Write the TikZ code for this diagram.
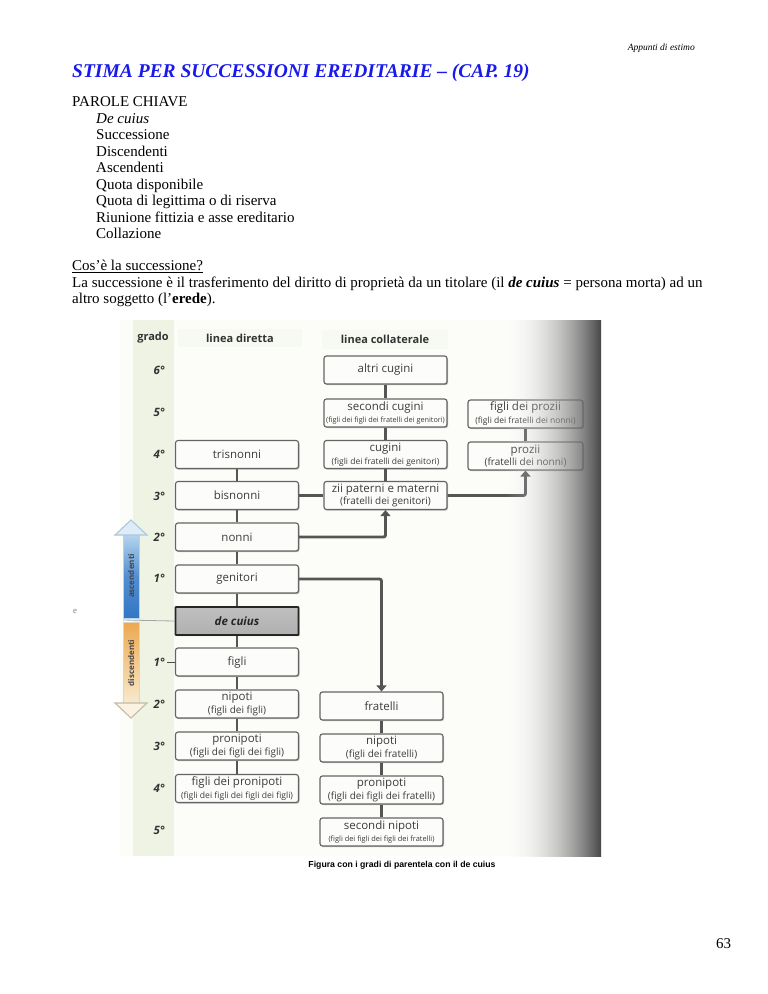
\documentclass[tikz,border=0pt]{standalone}
\usepackage{fontspec}
\setmainfont{Liberation Serif}
\newfontfamily\dfont{Open Sans}
\newfontfamily\capfont{Liberation Sans}
\usetikzlibrary{arrows.meta,shadows,fadings,calc}
\definecolor{titleblue}{RGB}{25,25,235}
\definecolor{boxline}{RGB}{100,100,100}
\definecolor{boxfill}{RGB}{252,252,250}
\definecolor{boxtext}{RGB}{60,60,60}
\definecolor{connc}{RGB}{85,85,85}
\definecolor{stripc}{RGB}{238,243,228}
\definecolor{photobg}{RGB}{252,252,249}
\definecolor{ascblue}{RGB}{50,118,198}
\definecolor{asclight}{RGB}{180,212,238}
\definecolor{discor}{RGB}{236,168,80}
\definecolor{discl}{RGB}{248,234,205}
\tikzfading[name=rightfade, left color=transparent!100, middle color=transparent!78, right color=transparent!0]
\newcommand\subl[1]{\\[0.3pt]{\fontsize{10}{11}\selectfont #1}}
\newcommand\subs[1]{\\[0.3pt]{\fontsize{8.5}{9.5}\selectfont #1}}
\newcommand\subt[2]{\\[0.3pt]{\fontsize{#1}{9}\selectfont #2}}
\begin{document}
\begin{tikzpicture}[x=1pt,y=-1pt,
  ptxt/.style={anchor=base west, inner sep=0pt, font=\fontsize{15}{16.5}\selectfont},
  kbox/.style={draw=boxline, line width=1.15pt, rounded corners=2.5pt, fill=boxfill,
    minimum width=123pt, minimum height=28pt, inner sep=0pt, align=center,
    font=\dfont\fontsize{11.5}{12.5}\selectfont, text=boxtext,
    drop shadow={shadow xshift=1pt, shadow yshift=-1.2pt, opacity=0.25, fill=black}},
  rbox/.style={kbox, minimum width=115pt},
  dcbox/.style={kbox, draw=black!85, line width=1.6pt, rounded corners=0.5pt,
    top color=gray!50, middle color=gray!5, bottom color=gray!62,
    font=\dfont\bfseries\itshape\fontsize{11.5}{12.5}\selectfont, text=black!85},
  conn/.style={draw=connc, line width=2.8pt},
  arr/.style={conn, rounded corners=2pt, -{Triangle[length=6pt,width=10pt]}},
  thinl/.style={draw=gray!70, line width=0.8pt},
  hdr/.style={font=\dfont\bfseries\fontsize{11}{12}\selectfont, text=black!80, inner sep=0pt},
  grd/.style={anchor=east, inner sep=0pt, font=\dfont\bfseries\itshape\fontsize{11.5}{12}\selectfont, text=black!80},
]
\useasboundingbox (0,0) rectangle (768,994);
\fill[white] (0,0) rectangle (768,994);

% ---- page text ----
\node[anchor=base east, inner sep=0pt, font=\itshape\fontsize{9.5}{11}\selectfont] (hdrnote) at (695,50) {Appunti di estimo};
\node[anchor=base west, inner sep=0pt, text=titleblue, font=\bfseries\itshape\fontsize{19.5}{22}\selectfont] (title) at (72,77) {STIMA PER SUCCESSIONI EREDITARIE – (CAP. 19)};
\node[ptxt] (kw0) at (72,106.5) {PAROLE CHIAVE};
\node[ptxt] (kw1) at (96,123) {\itshape De cuius};
\node[ptxt] (kw2) at (96,139.5) {Successione};
\node[ptxt] (kw3) at (96,156) {Discendenti};
\node[ptxt] (kw4) at (96,172.5) {Ascendenti};
\node[ptxt] (kw5) at (96,189) {Quota disponibile};
\node[ptxt] (kw6) at (96,205.5) {Quota di legittima o di riserva};
\node[ptxt] (kw7) at (96,222) {Riunione fittizia e asse ereditario};
\node[ptxt] (kw8) at (96,238.5) {Collazione};
\node[ptxt] (q1) at (72,270.5) {\underline{Cos’è la successione?}};
\node[ptxt] (q2) at (72,287) {La successione è il trasferimento del diritto di proprietà da un titolare (il \textbf{\textit{de cuius}} = persona morta) ad un};
\node[ptxt] (q3) at (72,303.5) {altro soggetto (l’\textbf{erede}).};
\node[text=gray, inner sep=0pt, font=\fontsize{9}{10}\selectfont] (stray) at (75,611) {e};

% ---- photo background ----
\fill[photobg] (120,320) rectangle (601,856);
\fill[stripc] (133,320) rectangle (174,856);
\fill[stripc!45] (178,329) rectangle (302,347);
\fill[stripc!45] (322,330) rectangle (448,349);

\node[hdr] (hgrado) at (153,338) {grado};
\node[hdr] (hdir) at (240,338) {linea diretta};
\node[hdr] (hcoll) at (385,339) {linea collaterale};

\node[grd] (g6) at (165,370) {6°};
\node[grd] (g5) at (165,412) {5°};
\node[grd] (g4) at (165,454) {4°};
\node[grd] (g3) at (165,496) {3°};
\node[grd] (g2) at (165,537) {2°};
\node[grd] (g1) at (165,578) {1°};
\node[grd] (d1) at (165,662) {1°};
\node[grd] (d2) at (165,704) {2°};
\node[grd] (d3) at (165,746) {3°};
\node[grd] (d4) at (165,788) {4°};
\node[grd] (d5) at (165,830) {5°};

% ---- ascendenti / discendenti arrow ----
\shade[top color=asclight, bottom color=ascblue, middle color=ascblue!75!asclight, draw=asclight, line width=0.6pt]
  (123,535) rectangle (139,618);
\filldraw[fill=asclight!45, draw=asclight!85!gray, line width=1.1pt]
  (115,535) -- (131,520) -- (147,535) -- cycle;
\shade[top color=discor, bottom color=discl, draw=discl!80!gray, line width=0.6pt]
  (123,622) rectangle (139,703);
\filldraw[fill=discl!60, draw=discl!55!gray, line width=1.1pt]
  (115,703) -- (131,718) -- (147,703) -- cycle;
\node[rotate=90, inner sep=0pt, font=\dfont\bfseries\fontsize{8}{9}\selectfont, text=black!72] (asc) at (131,576) {ascendenti};
\node[rotate=90, inner sep=0pt, font=\dfont\bfseries\fontsize{8}{9}\selectfont, text=black!72] (disc) at (131,663) {discendenti};

% ---- boxes ----
\node[kbox] (trisnonni) at (237,454.5) {trisnonni};
\node[kbox] (bisnonni) at (237,495.5) {bisnonni};
\node[kbox] (nonni) at (237,537) {nonni};
\node[kbox] (genitori) at (237,579) {genitori};
\node[dcbox] (decuius) at (237,621) {de cuius};
\node[kbox] (figli) at (237,662) {figli};
\node[kbox] (nipotiL) at (237,704) {nipoti\subl{(figli dei figli)}};
\node[kbox] (pronipotiL) at (237,746) {pronipoti\subl{(figli dei figli dei figli)}};
\node[kbox] (fdpL) at (237,788.5) {figli dei pronipoti\subt{8.6}{(figli dei figli dei figli dei figli)}};

\node[kbox] (altri) at (385.5,370) {altri cugini};
\node[kbox] (seccug) at (385.5,413) {secondi cugini\subt{7.3}{(figli dei figli dei fratelli dei genitori)}};
\node[kbox] (cugini) at (385.5,454.5) {cugini\subs{(figli dei fratelli dei genitori)}};
\node[kbox] (zii) at (385.5,495.5) {zii paterni e materni\subl{(fratelli dei genitori)}};

\node[rbox] (figprozii) at (525.5,414) {figli dei prozii\subs{(figli dei fratelli dei nonni)}};
\node[rbox] (prozii) at (525.5,456) {prozii\subl{(fratelli dei nonni)}};

\node[kbox] (fratelli) at (381.5,706) {fratelli};
\node[kbox] (nipotiM) at (381.5,748) {nipoti\subl{(figli dei fratelli)}};
\node[kbox] (pronipotiM) at (381.5,790) {pronipoti\subl{(figli dei figli dei fratelli)}};
\node[kbox] (secnip) at (381.5,832) {secondi nipoti\subt{7.4}{(figli dei figli dei figli dei fratelli)}};

% ---- connectors ----
\draw[conn] (trisnonni.south) -- (bisnonni.north);
\draw[conn] (bisnonni.south) -- (nonni.north);
\draw[conn] (nonni.south) -- (genitori.north);
\draw[conn] (genitori.south) -- (decuius.north);
\draw[conn] (decuius.south) -- (figli.north);
\draw[conn] (figli.south) -- (nipotiL.north);
\draw[conn] (nipotiL.south) -- (pronipotiL.north);
\draw[conn] (pronipotiL.south) -- (fdpL.north);
\draw[conn] (altri.south) -- (seccug.north);
\draw[conn] (seccug.south) -- (cugini.north);
\draw[conn] (cugini.south) -- (zii.north);
\draw[conn] (figprozii.south) -- (prozii.north);
\draw[conn] (fratelli.south) -- (nipotiM.north);
\draw[conn] (nipotiM.south) -- (pronipotiM.north);
\draw[conn] (pronipotiM.south) -- (secnip.north);
\draw[conn] (bisnonni.east) -- (zii.west);
\draw[arr] (nonni.east) -- (nonni.east -| zii.south) -- (zii.south);
\draw[arr] (zii.east) -- (zii.east -| prozii.south) -- (prozii.south);
\draw[arr] (genitori.east) -- (genitori.east -| fratelli.north) -- (fratelli.north);

\coordinate (arrowside) at (123,620);
\draw[thinl] (arrowside) -- (decuius.west);
\coordinate (dashstart) at (167,662);
\draw[thinl, draw=black!70] (dashstart) -- (figli.west);

% ---- binding shadow ----
\shade[left color=white, middle color=gray!45, right color=black!72, path fading=rightfade]
  (505,320) rectangle (601,856);

% ---- caption and page number ----
\node[inner sep=0pt, font=\capfont\bfseries\fontsize{8.7}{10}\selectfont] (caption) at (402,865) {Figura con i gradi di parentela con il de cuius};
\node[anchor=base, inner sep=0pt, font=\fontsize{15}{16.5}\selectfont] (pagenum) at (723.5,948) {63};
\end{tikzpicture}
\end{document}
